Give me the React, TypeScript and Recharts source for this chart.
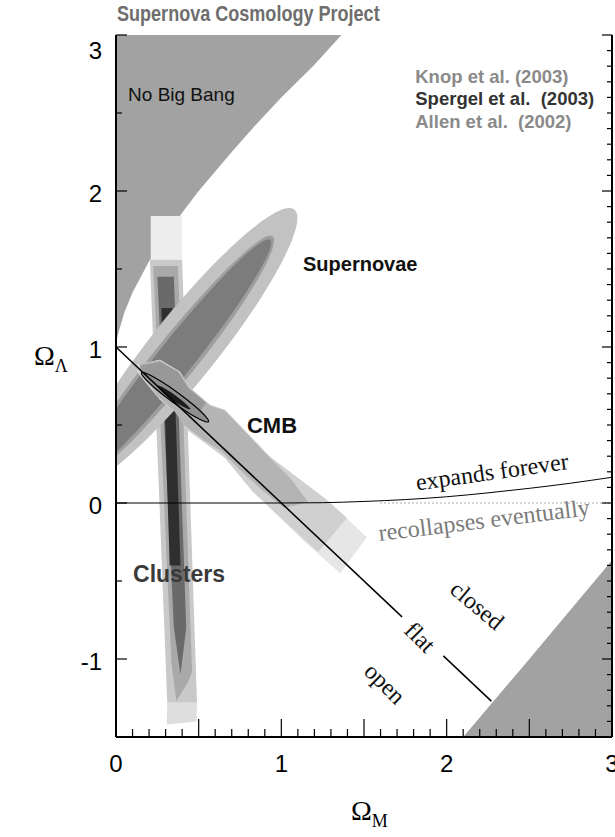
import React from "react";
import { ComposedChart, Scatter, XAxis, YAxis } from "recharts";

type Pt = { x: number; y: number };

// Values, in (Omega_M, Omega_Lambda) units.
const noBigBang: Pt[] = [
  { x: 0, y: 3.1 }, { x: 0, y: 1.0 }, { x: 0.005, y: 1.05 }, { x: 0.02, y: 1.11 },
  { x: 0.05, y: 1.22 }, { x: 0.1, y: 1.35 }, { x: 0.2, y: 1.55 }, { x: 0.3, y: 1.71 },
  { x: 0.4, y: 1.86 }, { x: 0.5, y: 2.0 }, { x: 0.7, y: 2.25 }, { x: 0.85, y: 2.43 },
  { x: 1.0, y: 2.6 }, { x: 1.2, y: 2.81 }, { x: 1.45, y: 3.1 },
];
const bounceRegion: Pt[] = [
  { x: 2.02, y: -1.6 }, { x: 3.1, y: -1.6 }, { x: 3.1, y: -0.24 }, { x: 2.5, y: -1.0 },
];

const snOuter: Pt[] = [
  { x: 1.11, y: 1.922 }, { x: 1.099, y: 1.728 }, { x: 0.904, y: 1.34 }, { x: 0.578, y: 0.859 },
  { x: 0.208, y: 0.416 }, { x: -0.106, y: 0.129 }, { x: -0.28, y: 0.075 }, { x: -0.269, y: 0.269 },
  { x: -0.074, y: 0.656 }, { x: 0.252, y: 1.137 }, { x: 0.622, y: 1.58 }, { x: 0.936, y: 1.867 },
];
const snMid: Pt[] = [
  { x: 0.975, y: 1.745 }, { x: 0.945, y: 1.585 }, { x: 0.76, y: 1.255 }, { x: 0.468, y: 0.838 },
  { x: 0.152, y: 0.446 }, { x: -0.108, y: 0.19 }, { x: -0.24, y: 0.125 }, { x: -0.208, y: 0.29 },
  { x: -0.018, y: 0.624 }, { x: 0.27, y: 1.032 }, { x: 0.588, y: 1.42 }, { x: 0.85, y: 1.685 },
];
const snInner: Pt[] = [
  { x: 0.96, y: 1.722 }, { x: 0.924, y: 1.58 }, { x: 0.739, y: 1.263 }, { x: 0.454, y: 0.859 },
  { x: 0.146, y: 0.476 }, { x: -0.104, y: 0.214 }, { x: -0.227, y: 0.146 }, { x: -0.191, y: 0.289 },
  { x: -0.006, y: 0.604 }, { x: 0.279, y: 1.008 }, { x: 0.588, y: 1.392 }, { x: 0.837, y: 1.654 },
];

const clustersTop: Pt[] = [
  { x: 0.21, y: 1.84 }, { x: 0.4, y: 1.84 }, { x: 0.4, y: 1.56 }, { x: 0.21, y: 1.56 },
];
const clustersOuter: Pt[] = [
  { x: 0.205, y: 1.56 }, { x: 0.4, y: 1.56 }, { x: 0.49, y: -1.28 }, { x: 0.31, y: -1.28 },
];
const clustersCap: Pt[] = [
  { x: 0.31, y: -1.28 }, { x: 0.49, y: -1.28 }, { x: 0.487, y: -1.4 }, { x: 0.307, y: -1.42 },
];
const clustersMid: Pt[] = [
  { x: 0.225, y: 1.52 }, { x: 0.375, y: 1.52 }, { x: 0.46, y: -1.08 }, { x: 0.44, y: -1.14 },
  { x: 0.365, y: -1.27 }, { x: 0.335, y: -1.02 },
];
const clustersDark: Pt[] = [
  { x: 0.25, y: 1.45 }, { x: 0.35, y: 1.45 }, { x: 0.425, y: -0.8 }, { x: 0.39, y: -1.1 },
  { x: 0.35, y: -0.8 },
];
const clustersCore: Pt[] = [
  { x: 0.275, y: 1.25 }, { x: 0.34, y: 1.25 }, { x: 0.39, y: -0.4 }, { x: 0.325, y: -0.4 },
];

const cmbOuter: Pt[] = [
  { x: 0.127, y: 0.887 }, { x: 0.266, y: 0.919 }, { x: 0.387, y: 0.842 }, { x: 0.448, y: 0.739 },
  { x: 0.569, y: 0.63 }, { x: 0.659, y: 0.598 }, { x: 0.932, y: 0.296 }, { x: 1.276, y: 0.019 },
  { x: 1.518, y: -0.219 }, { x: 1.355, y: -0.45 }, { x: 1.131, y: -0.238 }, { x: 0.829, y: 0.071 },
  { x: 0.659, y: 0.289 }, { x: 0.569, y: 0.36 }, { x: 0.43, y: 0.469 }, { x: 0.369, y: 0.578 },
  { x: 0.266, y: 0.662 }, { x: 0.127, y: 0.842 },
];
const cmbLight: Pt[] = [
  { x: 0.127, y: 0.887 }, { x: 0.266, y: 0.919 }, { x: 0.387, y: 0.842 }, { x: 0.448, y: 0.739 },
  { x: 0.569, y: 0.63 }, { x: 0.659, y: 0.598 }, { x: 0.932, y: 0.296 }, { x: 1.276, y: 0.019 },
  { x: 1.397, y: -0.096 }, { x: 1.222, y: -0.315 }, { x: 0.829, y: 0.071 }, { x: 0.659, y: 0.289 },
  { x: 0.569, y: 0.36 }, { x: 0.43, y: 0.469 }, { x: 0.369, y: 0.578 }, { x: 0.266, y: 0.662 },
  { x: 0.127, y: 0.842 },
];
const cmbMid: Pt[] = [
  { x: 0.145, y: 0.893 }, { x: 0.266, y: 0.913 }, { x: 0.387, y: 0.835 }, { x: 0.448, y: 0.733 },
  { x: 0.569, y: 0.623 }, { x: 0.659, y: 0.591 }, { x: 0.92, y: 0.302 }, { x: 1.053, y: 0.161 },
  { x: 1.162, y: 0.006 }, { x: 1.016, y: -0.032 }, { x: 0.883, y: 0.084 }, { x: 0.75, y: 0.212 },
  { x: 0.641, y: 0.328 }, { x: 0.538, y: 0.398 }, { x: 0.417, y: 0.495 }, { x: 0.351, y: 0.591 },
  { x: 0.254, y: 0.681 }, { x: 0.145, y: 0.842 },
];
const cmbDark: Pt[] = [
  { x: 0.145, y: 0.88 }, { x: 0.266, y: 0.906 }, { x: 0.375, y: 0.842 }, { x: 0.436, y: 0.739 },
  { x: 0.544, y: 0.643 }, { x: 0.508, y: 0.585 }, { x: 0.387, y: 0.662 }, { x: 0.266, y: 0.752 },
  { x: 0.175, y: 0.816 },
];
const combinedOutline: Pt[] = [
  { x: 0.569, y: 0.514 }, { x: 0.531, y: 0.522 }, { x: 0.446, y: 0.571 }, { x: 0.337, y: 0.65 },
  { x: 0.234, y: 0.735 }, { x: 0.164, y: 0.806 }, { x: 0.145, y: 0.842 }, { x: 0.183, y: 0.834 },
  { x: 0.268, y: 0.785 }, { x: 0.377, y: 0.707 }, { x: 0.48, y: 0.621 }, { x: 0.55, y: 0.55 },
];
const combinedCore: Pt[] = [
  { x: 0.23, y: 0.771 }, { x: 0.339, y: 0.713 }, { x: 0.496, y: 0.572 }, { x: 0.375, y: 0.63 },
  { x: 0.266, y: 0.72 },
];

const flatLineA: Pt[] = [{ x: 0, y: 1 }, { x: 1.73, y: -0.73 }];
const flatLineB: Pt[] = [{ x: 1.98, y: -0.98 }, { x: 2.27, y: -1.27 }];
const expandBoundary: Pt[] = [
  { x: 0, y: 0 }, { x: 1, y: 0 }, { x: 1.25, y: 0.002 }, { x: 1.5, y: 0.01 },
  { x: 1.75, y: 0.022 }, { x: 2, y: 0.04 }, { x: 2.25, y: 0.065 }, { x: 2.5, y: 0.094 },
  { x: 2.75, y: 0.127 }, { x: 3, y: 0.165 },
];
const recollapseDots: Pt[] = [{ x: 1.6, y: 0 }, { x: 3, y: 0 }];

const notes = [
  { text: "No Big Bang", x: 0.073, y: 2.62, kind: "plain", angle: 0 },
  { text: "Supernovae", x: 1.131, y: 1.53, kind: "bold", angle: 0 },
  { text: "CMB", x: 0.792, y: 0.5, kind: "boldBig", angle: 0 },
  { text: "Clusters", x: 0.103, y: -0.456, kind: "boldDark", angle: 0 },
  { text: "expands forever", x: 2.275, y: 0.2, kind: "serif", angle: -8 },
  { text: "recollapses eventually", x: 2.226, y: -0.11, kind: "serifGray", angle: -7 },
  { text: "closed", x: 2.184, y: -0.656, kind: "serif", angle: 40 },
  { text: "flat", x: 1.839, y: -0.861, kind: "serif", angle: 45 },
  { text: "open", x: 1.627, y: -1.157, kind: "serif", angle: 45 },
  { text: "Knop et al. (2003)", x: 1.81, y: 2.735, kind: "refLight", angle: 0 },
  { text: "Spergel et al.  (2003)", x: 1.81, y: 2.59, kind: "refDark", angle: 0 },
  { text: "Allen et al.  (2002)", x: 1.81, y: 2.445, kind: "refLight", angle: 0 },
];

const xTicks = Array.from({ length: 31 }, (_, i) => i / 10);
const yTicksLeft = [-1.5, -1, -0.5, 0, 0.5, 1, 1.5, 2, 2.5, 3];
const yTicksRight = Array.from({ length: 46 }, (_, i) => (i - 15) / 10);

const SANS = '"Liberation Sans", Arial, Helvetica, sans-serif';
const SERIF = '"Liberation Serif", "Times New Roman", serif';

const noteStyles: Record<string, any> = {
  plain: { anchor: "start", fontFamily: SANS, fontSize: 19, fill: "#111" },
  bold: { anchor: "start", fontFamily: SANS, fontSize: 20, fontWeight: 700, fill: "#111" },
  boldBig: { anchor: "start", fontFamily: SANS, fontSize: 22, fontWeight: 700, fill: "#111" },
  boldDark: { anchor: "start", fontFamily: SANS, fontSize: 23, fontWeight: 700, fill: "#3a3a3a" },
  serif: { anchor: "middle", fontFamily: SERIF, fontSize: 24, fill: "#111" },
  serifGray: { anchor: "middle", fontFamily: SERIF, fontSize: 24, fill: "#7a7a7a" },
  refLight: { anchor: "start", fontFamily: SANS, fontSize: 18.5, fontWeight: 700, fill: "#8a8a8a" },
  refDark: { anchor: "start", fontFamily: SANS, fontSize: 18.5, fontWeight: 700, fill: "#333" },
};

const near = (v: number, step: number) => Math.abs(v / step - Math.round(v / step)) < 1e-6;
const TICK = { stroke: "#000", strokeWidth: 1.2 };

function BottomTick({ x, y, payload }: any) {
  const v = payload.value;
  const len = near(v, 0.5) ? 18 : 8;
  return (
    <g>
      <line x1={x} y1={y} x2={x} y2={y - len} {...TICK} />
      {near(v, 1) && (
        <text x={x} y={y + 35} textAnchor="middle" fontFamily={SANS} fontSize={24} fill="#000">
          {Math.round(v)}
        </text>
      )}
    </g>
  );
}

function TopTick({ x, y, payload }: any) {
  const len = near(payload.value, 0.5) ? 18 : 8;
  return <line x1={x} y1={y} x2={x} y2={y + len} {...TICK} />;
}

function LeftTick({ x, y, payload }: any) {
  const v = payload.value;
  const whole = near(v, 1);
  return (
    <g>
      <line x1={x} y1={y} x2={x + (whole ? 11 : 6)} y2={y} {...TICK} />
      {whole && (
        <text x={x - 14} y={y + (v === 3 ? 24 : 11)} textAnchor="end" fontFamily={SANS} fontSize={24} fill="#000">
          {Math.round(v)}
        </text>
      )}
    </g>
  );
}

function RightTick({ x, y, payload }: any) {
  const len = near(payload.value, 1) ? 10 : 5;
  return <line x1={x} y1={y} x2={x - len} y2={y} {...TICK} />;
}

const NoDot = () => <g />;

function Note(props: any) {
  const { cx, cy, payload } = props;
  const s = noteStyles[payload.kind];
  return (
    <text
      x={cx}
      y={cy}
      textAnchor={s.anchor}
      dominantBaseline="central"
      transform={payload.angle ? `rotate(${payload.angle} ${cx} ${cy})` : undefined}
      style={{ whiteSpace: "pre" }}
      fontFamily={s.fontFamily}
      fontSize={s.fontSize}
      fontWeight={s.fontWeight}
      fill={s.fill}
    >
      {payload.text}
    </text>
  );
}

function region(key: string, data: Pt[], fill: string, curve = "linearClosed", stroke = "none", strokeWidth = 0) {
  return (
    <Scatter
      key={key}
      data={data}
      shape={NoDot}
      line={{ fill, stroke, strokeWidth }}
      lineType="joint"
      lineJointType={curve as any}
      legendType="none"
      isAnimationActive={false}
      zIndex={100}
    />
  );
}

function curveLine(key: string, data: Pt[], stroke: string, width: number, curve = "linear", dash?: string) {
  return (
    <Scatter
      key={key}
      data={data}
      shape={NoDot}
      line={{ fill: "none", stroke, strokeWidth: width, strokeDasharray: dash }}
      lineType="joint"
      lineJointType={curve as any}
      legendType="none"
      isAnimationActive={false}
      zIndex={100}
    />
  );
}

export default function App() {
  return (
    <div style={{ position: "absolute", left: 0, top: 0, width: 615, height: 837, background: "#fff" }}>
      <ComposedChart width={615} height={837} margin={{ top: 35, right: 0, bottom: 0, left: 0 }}>
        {region("nbb", noBigBang, "#a2a2a2")}
        {region("bounce", bounceRegion, "#a2a2a2")}
        {region("clTop", clustersTop, "#ededed")}
        {region("clOuter", clustersOuter, "#c9c9c9")}
        {region("clCap", clustersCap, "#dedede")}
        {region("clMid", clustersMid, "#a9a9a9")}
        {region("clDark", clustersDark, "#6a6a6a")}
        {region("clCore", clustersCore, "#2f2f2f")}
        {region("snOuter", snOuter, "#c2c2c2", "basisClosed")}
        {region("snMid", snMid, "#9e9e9e", "basisClosed")}
        {region("snInner", snInner, "#7c7c7c", "basisClosed")}
        {region("cmbOuter", cmbOuter, "#e6e6e6")}
        {region("cmbLight", cmbLight, "#d0d0d0")}
        {region("cmbMid", cmbMid, "#b4b4b4")}
        {region("cmbDark", cmbDark, "#989898")}
        {region("comb", combinedOutline, "#8e8e8e", "basisClosed", "#000", 1.2)}
        {region("combCore", combinedCore, "#1a1a1a", "basisClosed")}
        {curveLine("flatA", flatLineA, "#000", 1.5)}
        {curveLine("flatB", flatLineB, "#000", 1.5)}
        {curveLine("expand", expandBoundary, "#000", 1, "monotoneX")}
        {curveLine("dots", recollapseDots, "#555", 1, "linear", "1 3")}
        <Scatter data={notes} shape={Note} legendType="none" isAnimationActive={false} zIndex={100} />

        <XAxis
          xAxisId={0}
          dataKey="x"
          type="number"
          domain={[0, 3]}
          allowDataOverflow
          ticks={xTicks}
          interval={0}
          height={100}
          tickSize={0}
          tickMargin={0}
          tickLine={false}
          tick={<BottomTick />}
          axisLine={{ stroke: "#000", strokeWidth: 2 }}
          zIndex={1000}
        />
        <XAxis
          xAxisId="top"
          orientation="top"
          type="number"
          domain={[0, 3]}
          allowDataOverflow
          ticks={xTicks}
          interval={0}
          height={0}
          tickSize={0}
          tickMargin={0}
          tickLine={false}
          tick={<TopTick />}
          axisLine={{ stroke: "#000", strokeWidth: 2 }}
          zIndex={1000}
        />
        <YAxis
          yAxisId={0}
          dataKey="y"
          type="number"
          domain={[-1.5, 3]}
          allowDataOverflow
          ticks={yTicksLeft}
          interval={0}
          width={116}
          tickSize={0}
          tickMargin={0}
          tickLine={false}
          tick={<LeftTick />}
          axisLine={{ stroke: "#000", strokeWidth: 2 }}
          zIndex={1000}
        />
        <YAxis
          yAxisId="right"
          orientation="right"
          type="number"
          domain={[-1.5, 3]}
          allowDataOverflow
          ticks={yTicksRight}
          interval={0}
          width={3}
          tickSize={0}
          tickMargin={0}
          tickLine={false}
          tick={<RightTick />}
          axisLine={{ stroke: "#000", strokeWidth: 2 }}
          zIndex={1000}
        />
      </ComposedChart>

      <div
        style={{
          position: "absolute",
          left: 117,
          top: 1,
          fontFamily: SANS,
          fontWeight: 700,
          fontSize: 22,
          color: "#6e6e6e",
          whiteSpace: "nowrap",
          transform: "scaleX(0.82)",
          transformOrigin: "left center",
        }}
      >
        Supernova Cosmology Project
      </div>
      <div
        style={{
          position: "absolute",
          left: 34,
          top: 340,
          fontFamily: SERIF,
          fontSize: 28,
          color: "#000",
          whiteSpace: "nowrap",
        }}
      >
        Ω<sub style={{ fontSize: 18 }}>Λ</sub>
      </div>
      <div
        style={{
          position: "absolute",
          left: 351,
          top: 795,
          fontFamily: SERIF,
          fontSize: 28,
          color: "#000",
          whiteSpace: "nowrap",
        }}
      >
        Ω<sub style={{ fontSize: 18 }}>M</sub>
      </div>
    </div>
  );
}
